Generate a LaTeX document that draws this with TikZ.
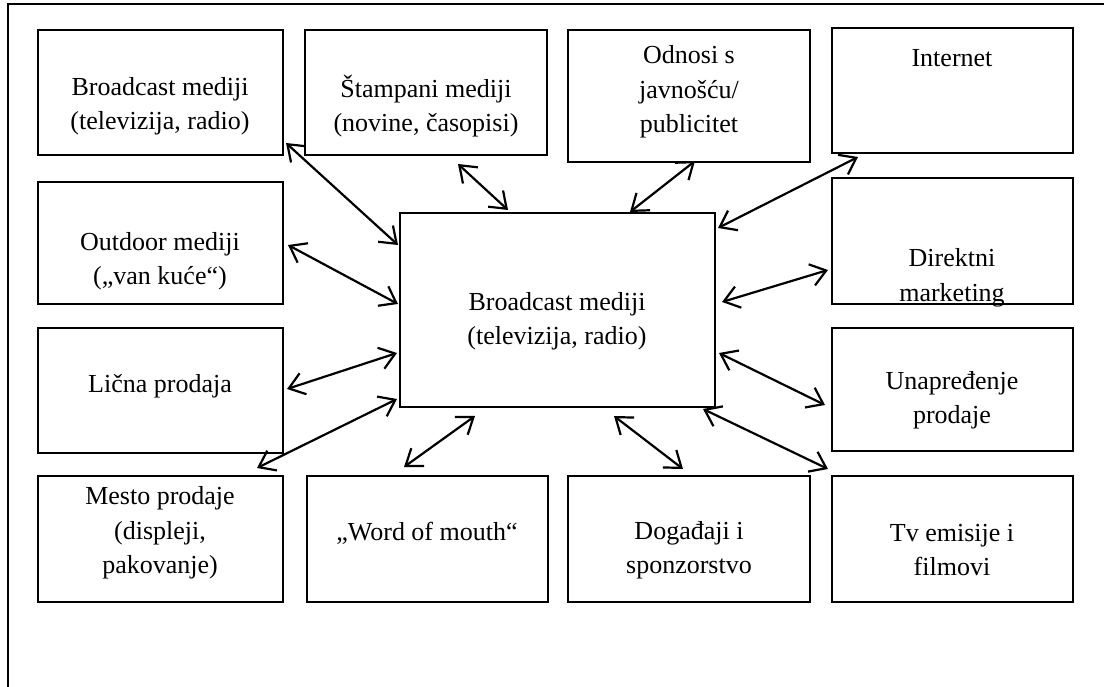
\documentclass[tikz,border=0pt]{standalone}
\usepackage{fontspec}
\setmainfont{Liberation Serif}
\usetikzlibrary{arrows.meta}
\begin{document}
\begin{tikzpicture}[x=1pt,y=-1pt,
  box/.style={draw,line width=2.3pt},
  lbl/.style={align=center,inner sep=0pt,font=\fontsize{26}{34.5}\selectfont},
  tip/.style={Straight Barb[length=15pt,width=22pt]},
  link/.style={line width=2.2pt,{Straight Barb[length=15pt,width=22pt]}-{Straight Barb[length=15pt,width=22pt]}}]
\useasboundingbox (0,0) rectangle (1104,687);
% outer frame (top and left edges)
\draw[line width=2.3pt] (1110,4) -- (8,4) -- (8,695);

% boxes
\draw[box] (38,30) rectangle (283,155) coordinate (b1);
\draw[box] (305,30) rectangle (547,155) coordinate (b2);
\draw[box] (568,30) rectangle (810,162) coordinate (b3);
\draw[box] (832,28) rectangle (1073,153) coordinate (b4);
\draw[box] (38,182) rectangle (283,304) coordinate (b5);
\draw[box] (832,178) rectangle (1073,304) coordinate (b6);
\draw[box] (38,328) rectangle (283,453) coordinate (b7);
\draw[box] (832,328) rectangle (1073,451) coordinate (b8);
\draw[box] (38,476) rectangle (283,602) coordinate (b9);
\draw[box] (307,476) rectangle (548,602) coordinate (b10);
\draw[box] (568,476) rectangle (810,602) coordinate (b11);
\draw[box] (832,476) rectangle (1073,602) coordinate (b12);
\draw[box] (400,213) rectangle (715,407) coordinate (bc);

% labels
\node[lbl] (t1) at (160,106) {Broadcast mediji\\(televizija, radio)};
\node[lbl] (t2) at (426,106) {Štampani mediji\\(novine, časopisi)};
\node[lbl] (t3) at (689,92) {Odnosi s\\javnošću/\\publicitet};
\node[lbl] (t4) at (952,58) {Internet};
\node[lbl] (t5) at (160,261) {Outdoor mediji\\(„van kuće“)};
\node[lbl] (t6) at (952,278) {Direktni\\marketing};
\node[lbl] (t7) at (160,386) {Lična prodaja};
\node[lbl] (t8) at (952,400) {Unapređenje\\prodaje};
\node[lbl] (t9) at (160,533) {Mesto prodaje\\(displeji,\\pakovanje)};
\node[lbl] (t10) at (427,533) {„Word of mouth“};
\node[lbl] (t11) at (689,550) {Događaji i\\sponzorstvo};
\node[lbl] (t12) at (952,550) {Tv emisije i\\filmovi};
\node[lbl] (tc) at (557,321) {Broadcast mediji\\(televizija, radio)};

% connector end points
\coordinate (a1) at (286,143);  \coordinate (c1) at (398,245);
\coordinate (a2) at (458,164);  \coordinate (c2) at (508,210);
\coordinate (a3) at (695,161);  \coordinate (c3) at (630,212);
\coordinate (a4) at (858,157);  \coordinate (c4) at (718,228);
\coordinate (a5) at (288,245);  \coordinate (c5) at (398,304);
\coordinate (a6) at (828,270);  \coordinate (c6) at (722,302);
\coordinate (a7) at (287,389);  \coordinate (c7) at (397,353);
\coordinate (a8) at (257,468);  \coordinate (c8) at (397,399);
\coordinate (a9) at (404,467);  \coordinate (c9) at (475,416);
\coordinate (a10) at (683,469); \coordinate (c10) at (614,416);
\coordinate (a11) at (825,405); \coordinate (c11) at (719,353);
\coordinate (a12) at (828,469); \coordinate (c12) at (703,409);

% two-way connectors
\foreach \i in {1,...,12} {
  \draw[link] (a\i) -- (c\i);
}
\end{tikzpicture}
\end{document}
